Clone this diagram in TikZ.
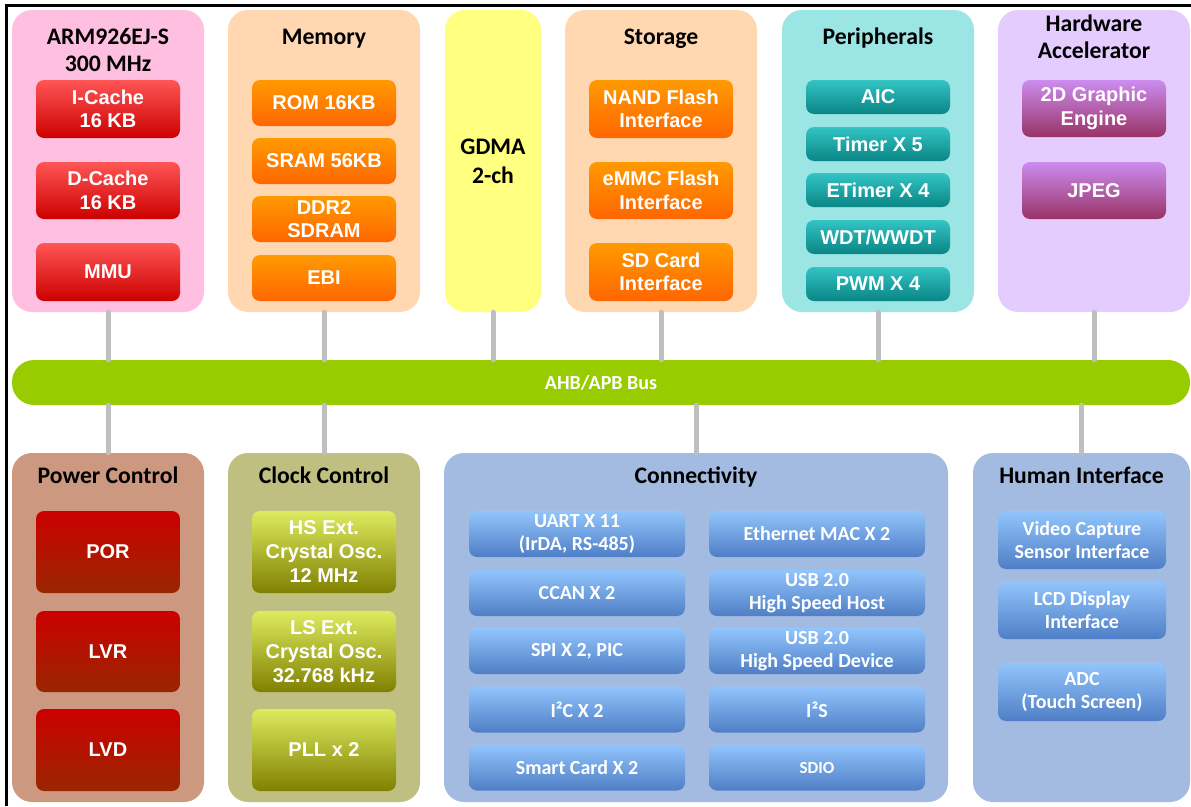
\documentclass[tikz,border=0pt]{standalone}
\usepackage{fontspec}
\setmainfont{Liberation Sans}
\newfontfamily\calibri{Carlito}
\definecolor{cPink}{HTML}{FFBFE0}
\definecolor{cPeach}{HTML}{FFD8B2}
\definecolor{cYel}{HTML}{FFFF80}
\definecolor{cCyan}{HTML}{9CE5E5}
\definecolor{cLav}{HTML}{E4CCFF}
\definecolor{cPwr}{HTML}{CC9980}
\definecolor{cClk}{HTML}{BFBF82}
\definecolor{cBlue}{HTML}{A3BBE0}
\definecolor{cBus}{HTML}{99CC00}
\definecolor{cConn}{HTML}{BFBFBF}
\definecolor{rTop}{HTML}{FF5555}\definecolor{rBot}{HTML}{CC0000}
\definecolor{oTop}{HTML}{FF9A00}\definecolor{oBot}{HTML}{FF6600}
\definecolor{tTop}{HTML}{33C4C4}\definecolor{tBot}{HTML}{0A8585}
\definecolor{pTop}{HTML}{CC8CF0}\definecolor{pBot}{HTML}{993366}
\definecolor{dTop}{HTML}{CC0000}\definecolor{dBot}{HTML}{992600}
\definecolor{gTop}{HTML}{DDEB60}\definecolor{gBot}{HTML}{808000}
\definecolor{bTop}{HTML}{92C5FC}\definecolor{bBot}{HTML}{4F7EC6}
\begin{document}
\begin{tikzpicture}[x=1pt,y=-1pt,
  sz/.style 2 args={minimum width=#1pt,minimum height=#2pt},
  grp/.style={fill=#1,rounded corners=20pt,inner sep=0pt},
  ttl/.style={align=center,text=black,inner sep=0pt,font=\calibri\bfseries\fontsize{23.7}{27.5}\selectfont},
  ibox/.style 2 args={top color=#1,bottom color=#2,draw=none,rounded corners=8pt,inner sep=0pt,text=white,align=center},
  afont/.style={font=\bfseries\fontsize{20}{23.5}\selectfont},
  cfont/.style={font=\calibri\bfseries\fontsize{20}{23}\selectfont},
  rbox/.style={ibox={rTop}{rBot},afont},
  obox/.style={ibox={oTop}{oBot},afont},
  tbox/.style={ibox={tTop}{tBot},afont},
  pbox/.style={ibox={pTop}{pBot},afont},
  dbox/.style={ibox={dTop}{dBot},afont},
  gbox/.style={ibox={gTop}{gBot},afont,font=\bfseries\fontsize{20}{24}\selectfont},
  bbox/.style={ibox={bTop}{bBot},cfont},
  conn/.style={draw=cConn,line width=5pt,line cap=round}]
\useasboundingbox (0,0) rectangle (1191,806);
% border
\draw[line width=3pt] (6,806) -- (6,5) -- (1191,5);

% ---- top groups
\node[grp=cPink,sz={192}{302}] (arm) at (108,161) {};
\node[ttl] (armt) at (108,50) {ARM926EJ-S\\300 MHz};
\node[rbox,sz={144}{58}] (icache) at (108,109) {I-Cache\\16 KB};
\node[rbox,sz={144}{57}] (dcache) at (108,190.5) {D-Cache\\16 KB};
\node[rbox,sz={144}{58}] (mmu) at (108,272) {MMU};

\node[grp=cPeach,sz={192}{302}] (mem) at (324,161) {};
\node[ttl,anchor=base] (memt) at (324,44) {Memory};
\node[obox,sz={144}{46}] (rom) at (324,103) {ROM 16KB};
\node[obox,sz={144}{46}] (sram) at (324,161) {SRAM 56KB};
\node[obox,sz={144}{46}] (ddr) at (324,219) {DDR2\\SDRAM};
\node[obox,sz={144}{46}] (ebi) at (324,278) {EBI};

\node[grp=cYel,sz={96}{302}] (gdma) at (493,161) {};
\node[ttl,font=\calibri\bfseries\fontsize{23.7}{29}\selectfont] (gdmat) at (493,161) {GDMA\\2-ch};

\node[grp=cPeach,sz={192}{302}] (stor) at (661,161) {};
\node[ttl,anchor=base] (stort) at (661,44) {Storage};
\node[obox,sz={144}{58}] (nand) at (661,109) {NAND Flash\\Interface};
\node[obox,sz={144}{57}] (emmc) at (661,190.5) {eMMC Flash\\Interface};
\node[obox,sz={144}{58}] (sdc) at (661,272) {SD Card\\Interface};

\node[grp=cCyan,sz={192}{302}] (peri) at (878,161) {};
\node[ttl,anchor=base] (perit) at (878,44) {Peripherals};
\node[tbox,sz={144}{34}] (aic) at (878,97) {AIC};
\node[tbox,sz={144}{34}] (timer) at (878,144) {Timer X 5};
\node[tbox,sz={144}{34}] (etimer) at (878,190) {ETimer X 4};
\node[tbox,sz={144}{34}] (wdt) at (878,237) {WDT/WWDT};
\node[tbox,sz={144}{34}] (pwm) at (878,284) {PWM X 4};

\node[grp=cLav,sz={192}{302}] (hwa) at (1094,161) {};
\node[ttl] (hwat) at (1094,37) {Hardware\\Accelerator};
\node[pbox,sz={144}{57}] (g2d) at (1094,108.5) {2D Graphic\\Engine};
\node[pbox,sz={144}{57}] (jpeg) at (1094,190.5) {JPEG};

% ---- bus
\node[fill=cBus,rounded corners=22pt,sz={1178}{45},inner sep=0pt,text=white,font=\calibri\bfseries\fontsize{20}{22}\selectfont] (bus) at (601,382.5) {AHB/APB Bus};

% ---- bottom groups
\node[grp=cPwr,sz={192}{349}] (pwr) at (108,627.5) {};
\node[ttl,anchor=base] (pwrt) at (108,483) {Power Control};
\node[dbox,sz={144}{82}] (por) at (108,552) {POR};
\node[dbox,sz={144}{81}] (lvr) at (108,651.5) {LVR};
\node[dbox,sz={144}{82}] (lvd) at (108,750) {LVD};

\node[grp=cClk,sz={192}{349}] (clk) at (324,627.5) {};
\node[ttl,anchor=base] (clkt) at (324,483) {Clock Control};
\node[gbox,sz={144}{82}] (hs) at (324,552) {HS Ext.\\Crystal Osc.\\12 MHz};
\node[gbox,sz={144}{81}] (ls) at (324,651.5) {LS Ext.\\Crystal Osc.\\32.768 kHz};
\node[gbox,sz={144}{82}] (pll) at (324,750) {PLL x 2};

\node[grp=cBlue,sz={504}{349}] (conn) at (696,627.5) {};
\node[ttl,anchor=base] (connt) at (696,483) {Connectivity};
\node[bbox,sz={216}{46}] (uart) at (577,534) {UART X 11\\(IrDA, RS-485)};
\node[bbox,sz={216}{46}] (ccan) at (577,593) {CCAN X 2};
\node[bbox,sz={216}{46}] (spi) at (577,651) {SPI X 2, PIC};
\node[bbox,sz={216}{46}] (i2c) at (577,709.5) {I²C X 2};
\node[bbox,sz={216}{46}] (smart) at (577,767.5) {Smart Card X 2};
\node[bbox,sz={216}{46}] (emac) at (817,534) {Ethernet MAC X 2};
\node[bbox,sz={216}{46}] (usbh) at (817,593) {USB 2.0\\High Speed Host};
\node[bbox,sz={216}{46}] (usbd) at (817,651) {USB 2.0\\High Speed Device};
\node[bbox,sz={216}{46}] (i2s) at (817,709.5) {I²S};
\node[bbox,sz={216}{46},font=\calibri\bfseries\fontsize{17}{20}\selectfont] (sdio) at (817,767.5) {SDIO};

\node[grp=cBlue,sz={217}{349}] (hmi) at (1081.5,627.5) {};
\node[ttl,anchor=base] (hmit) at (1081.5,483) {Human Interface};
\node[bbox,sz={168}{58}] (vcap) at (1082,540) {Video Capture\\Sensor Interface};
\node[bbox,sz={168}{58}] (lcd) at (1082,610) {LCD Display\\Interface};
\node[bbox,sz={168}{58}] (adc) at (1082,692) {ADC\\(Touch Screen)};

% ---- connectors
\foreach \g in {arm,mem,gdma,stor,peri,hwa}
  \draw[conn] (\g.south) -- (\g.south |- bus.north);
\foreach \g in {pwr,clk,conn,hmi}
  \draw[conn] (bus.south -| \g.north) -- (\g.north);
\end{tikzpicture}
\end{document}
